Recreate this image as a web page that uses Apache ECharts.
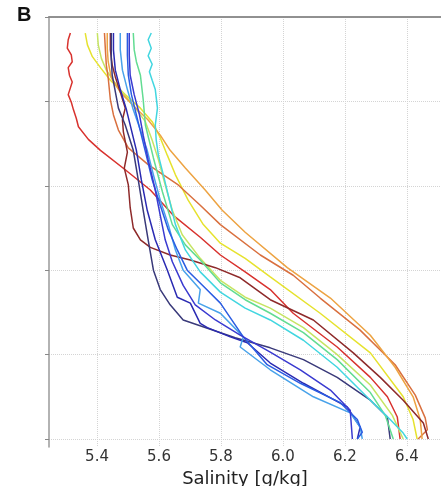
<!DOCTYPE html>
<html>
<head>
<meta charset="utf-8">
<script src="https://cdn.jsdelivr.net/npm/echarts@6/dist/echarts.min.js"></script>
<style>
  html, body { margin: 0; padding: 0; background: #fff; }
  #chart { width: 441px; height: 486px; }
</style>
</head>
<body>
<div id="chart"></div>
<script>
// salinity [g/kg], depth (arbitrary units, 0 at top)
const red = [[5.314,1.9],[5.307,2.7],[5.304,3.7],[5.317,4.5],[5.320,5.3],[5.307,6.0],[5.311,6.9],[5.320,7.7],[5.314,8.4],[5.307,9.2],[5.317,10.1],[5.324,11.0],[5.333,12.0],[5.340,13.0],[5.372,14.5],[5.411,15.8],[5.491,18.1],[5.572,20.5],[5.646,23.5],[5.733,26.1],[5.798,28.2],[5.878,30.2],[5.959,32.3],[6.033,35.1],[6.175,39.1],[6.282,42.7],[6.337,45.0],[6.369,47.4],[6.378,50.0]]
const yellow = [[5.362,1.9],[5.369,3.3],[5.385,4.7],[5.411,6.0],[5.443,7.5],[5.491,9.2],[5.540,10.8],[5.578,12.4],[5.604,14.3],[5.627,16.4],[5.653,18.7],[5.694,21.7],[5.743,24.6],[5.798,26.8],[5.878,28.6],[5.959,30.8],[6.120,35.1],[6.282,39.8],[6.388,45.0],[6.420,47.7],[6.433,50.0]]
const yellowGreen = [[5.401,1.9],[5.404,3.3],[5.414,4.9],[5.430,6.3],[5.456,7.7],[5.488,9.2],[5.524,10.8],[5.556,12.4],[5.578,14.6],[5.598,16.9],[5.620,19.9],[5.643,22.9],[5.675,25.8],[5.733,28.6],[5.798,31.2],[5.878,33.2],[5.959,34.5],[6.066,36.8],[6.175,40.0],[6.282,43.6],[6.353,47.2],[6.388,50.0]]
const tomato = [[5.424,1.9],[5.427,3.9],[5.430,5.7],[5.436,7.2],[5.443,9.8],[5.453,11.6],[5.469,13.4],[5.501,15.5],[5.565,17.5],[5.662,19.9],[5.733,22.3],[5.798,24.6],[5.927,28.2],[6.033,30.6],[6.120,33.3],[6.249,37.1],[6.362,41.2],[6.427,44.8],[6.459,47.5],[6.466,48.9],[6.436,50.0]]
const orange = [[5.433,1.9],[5.433,3.7],[5.436,5.3],[5.446,7.2],[5.475,8.9],[5.514,10.4],[5.565,12.2],[5.604,14.0],[5.636,15.8],[5.685,17.9],[5.749,20.5],[5.804,22.9],[5.878,25.5],[6.014,29.7],[6.153,33.3],[6.282,37.7],[6.362,41.5],[6.420,45.0],[6.443,47.7],[6.449,50.0]]
const maroon = [[5.443,1.9],[5.443,3.9],[5.449,5.7],[5.459,7.1],[5.475,8.9],[5.491,10.8],[5.482,12.2],[5.485,13.6],[5.498,16.0],[5.488,17.9],[5.501,19.9],[5.507,22.6],[5.517,25.0],[5.540,26.4],[5.572,27.3],[5.636,28.2],[5.701,28.8],[5.782,29.7],[5.862,30.9],[5.959,33.5],[6.098,35.9],[6.227,39.8],[6.314,42.7],[6.388,45.4],[6.453,48.1],[6.469,50.0]]
const navy = [[5.446,1.9],[5.446,5.1],[5.449,6.9],[5.469,10.8],[5.491,12.8],[5.517,15.8],[5.533,19.3],[5.549,22.9],[5.565,26.4],[5.582,30.0],[5.604,32.3],[5.636,34.1],[5.678,35.9],[5.749,36.8],[5.846,38.0],[5.959,39.2],[6.066,40.6],[6.175,42.7],[6.282,45.4],[6.337,47.4],[6.346,50.0]]
const darkBlue = [[5.453,1.9],[5.453,3.9],[5.459,6.3],[5.475,8.6],[5.495,11.0],[5.511,13.4],[5.527,15.8],[5.543,19.3],[5.562,22.9],[5.588,26.4],[5.627,30.0],[5.659,33.2],[5.701,33.9],[5.733,36.3],[5.756,36.8],[5.830,37.9],[5.885,38.6],[5.959,41.0],[6.066,43.4],[6.207,46.2],[6.249,48.6],[6.240,50.0]]
const dodger = [[5.475,1.9],[5.475,3.9],[5.482,6.3],[5.498,8.6],[5.517,11.0],[5.540,13.4],[5.562,15.8],[5.582,18.7],[5.604,21.7],[5.630,24.6],[5.653,27.6],[5.678,30.0],[5.733,32.3],[5.727,33.9],[5.798,35.1],[5.872,37.9],[5.862,39.1],[5.959,41.8],[6.098,45.0],[6.217,46.9],[6.249,48.6],[6.256,50.0]]
const blue = [[5.498,1.9],[5.498,4.5],[5.501,6.9],[5.511,9.2],[5.527,11.6],[5.543,14.0],[5.559,16.4],[5.578,19.3],[5.604,22.3],[5.630,25.2],[5.659,27.6],[5.691,30.0],[5.749,32.1],[5.798,33.9],[5.872,37.9],[5.949,41.2],[6.056,43.4],[6.185,45.7],[6.240,47.7],[6.256,49.2],[6.240,50.0]]
const blue2 = [[5.504,1.9],[5.504,4.5],[5.507,6.9],[5.520,9.2],[5.537,11.6],[5.549,14.0],[5.565,16.9],[5.588,20.5],[5.604,23.5],[5.620,26.4],[5.643,29.0],[5.678,31.8],[5.717,34.1],[5.782,35.9],[5.862,37.7],[5.959,39.7],[6.056,41.8],[6.153,44.2],[6.217,46.6],[6.224,50.0]]
const green = [[5.517,1.9],[5.520,3.9],[5.527,5.3],[5.540,6.9],[5.549,9.8],[5.556,12.8],[5.582,16.7],[5.611,20.7],[5.643,24.6],[5.685,27.0],[5.733,28.8],[5.798,31.5],[5.878,33.5],[5.959,35.1],[6.066,37.4],[6.175,40.6],[6.282,44.5],[6.330,47.2],[6.356,50.0]]
const cyan = [[5.575,1.9],[5.565,2.7],[5.575,3.7],[5.565,4.6],[5.578,5.6],[5.569,6.5],[5.578,7.5],[5.588,8.6],[5.595,10.8],[5.588,12.8],[5.591,14.6],[5.598,16.4],[5.614,18.7],[5.627,20.7],[5.653,24.6],[5.685,27.6],[5.733,30.2],[5.798,32.6],[5.878,34.5],[5.959,35.9],[6.066,38.3],[6.175,41.5],[6.282,45.4],[6.346,47.7],[6.388,49.3],[6.401,50.0]]

const xTicks = [5.4, 5.6, 5.8, 6.0, 6.2, 6.4]
const yTicks = [0, 10, 20, 30, 40, 50]

const profiles = [
  ['red', red, '#d8322e'],
  ['yellow', yellow, '#e6e22e'],
  ['yellowGreen', yellowGreen, '#c6e463'],
  ['tomato', tomato, '#d9703f'],
  ['orange', orange, '#eda342'],
  ['maroon', maroon, '#8e2a2a'],
  ['navy', navy, '#3a3a7a'],
  ['darkBlue', darkBlue, '#2a2ab2'],
  ['dodger', dodger, '#48a2ea'],
  ['blue', blue, '#2a5ce2'],
  ['blue2', blue2, '#3a3ad0'],
  ['green', green, '#62dc92'],
  ['cyan', cyan, '#42d6e0']
]

const xMin = 5.245
const xMax = 6.51
const yMax = 50.95
const font = 'DejaVu Sans'

const chart = echarts.init(document.getElementById('chart'))
chart.setOption({
  animation: false,
  title: {
    text: 'B',
    left: 12,
    top: 0,
    textStyle: { fontFamily: 'Liberation Sans', fontWeight: 'bold', fontSize: 20, color: '#111' }
  },
  grid: { left: 49, right: 0, top: 17, bottom: 39, outerBoundsMode: 'none' },
  xAxis: [{
    type: 'value',
    min: xMin,
    max: xMax,
    splitNumber: 6,
    name: 'Salinity [g/kg]',
    nameLocation: 'middle',
    nameGap: 17,
    nameTextStyle: { fontFamily: font, fontSize: 18, color: '#222' },
    axisLine: { lineStyle: { color: '#8a8a8a', width: 1.5 } },
    axisTick: { show: false, customValues: xTicks },
    axisLabel: {
      margin: 3,
      fontFamily: font,
      fontSize: 15,
      color: '#333',
      customValues: xTicks,
      formatter: v => v.toFixed(1)
    },
    splitLine: { lineStyle: { color: '#d4d4d4', type: 'dotted', width: 1 } }
  }, {
    type: 'value',
    position: 'top',
    min: xMin,
    max: xMax,
    axisLine: { show: true, lineStyle: { color: '#8a8a8a', width: 1.5 } },
    axisTick: { show: false },
    axisLabel: { show: false },
    splitLine: { show: false }
  }],
  yAxis: {
    type: 'value',
    inverse: true,
    min: 0,
    max: yMax,
    interval: 10,
    axisLine: { show: true, lineStyle: { color: '#9a9a9a', width: 1.5 } },
    axisTick: { show: true, length: 4, customValues: yTicks, lineStyle: { color: '#888' } },
    axisLabel: { show: false },
    splitLine: { lineStyle: { color: '#d4d4d4', type: 'dotted', width: 1 } }
  },
  series: profiles.map(([name, data, color]) => ({
    name,
    type: 'line',
    data,
    showSymbol: false,
    silent: true,
    lineStyle: { color, width: 1.5 }
  }))
})
</script>
</body>
</html>
